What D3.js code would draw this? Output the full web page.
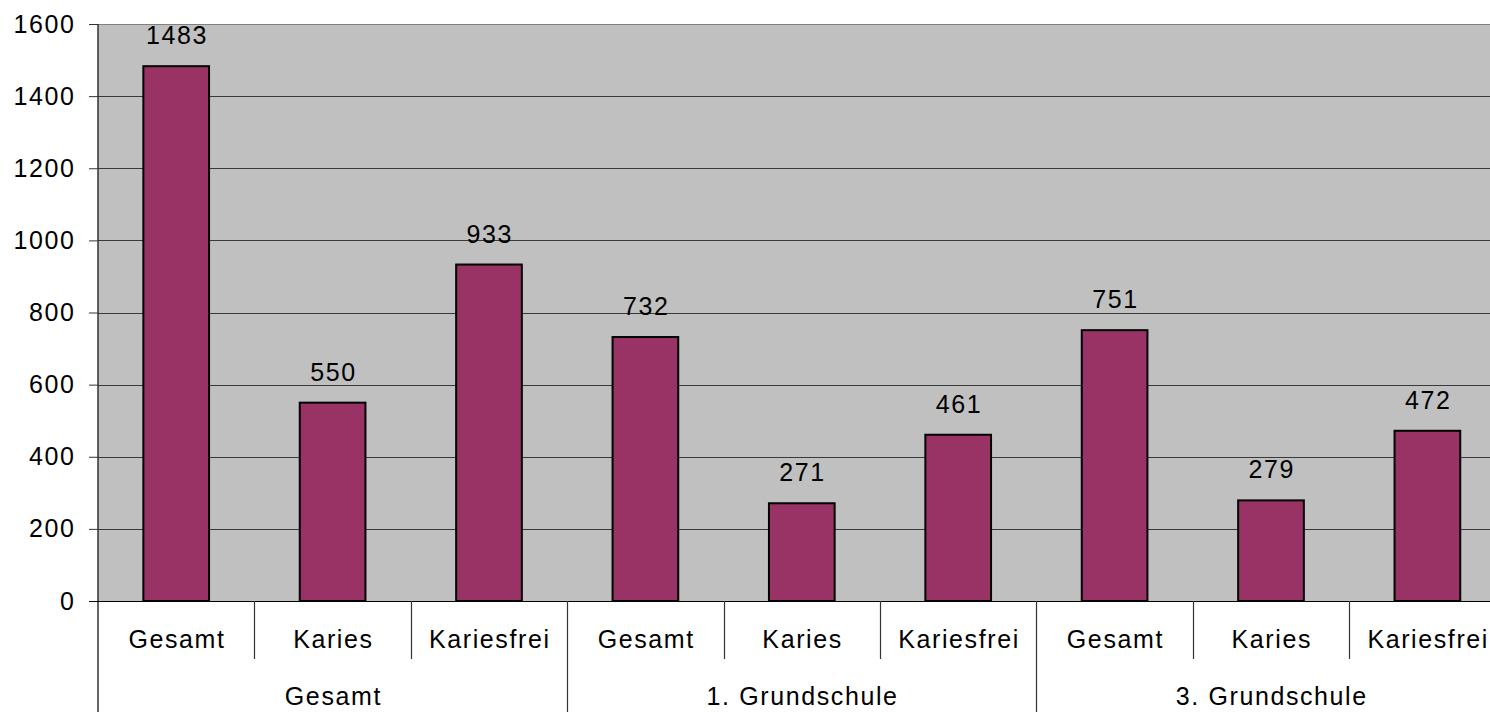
<!DOCTYPE html>
<html><head><meta charset="utf-8">
<script src="https://cdn.jsdelivr.net/npm/d3@7"></script>
<style>
html,body{margin:0;padding:0;background:#fff;overflow:hidden;}
svg text{font-family:"Liberation Sans",Arial,sans-serif;fill:#000;}
</style></head>
<body>
<svg id="chart" width="1490" height="712"></svg>
<script>
const groups = ["Gesamt", "1. Grundschule", "3. Grundschule"];
const categories = ["Gesamt", "Karies", "Kariesfrei"];
const values = [1483, 550, 933, 732, 271, 461, 751, 279, 472];
const yTicks = [0, 200, 400, 600, 800, 1000, 1200, 1400, 1600];

(function () {
const svg = d3.select("#chart");
const pLeft = 98, pRight = 1505.6, pTop = 24, pBottom = 601, visRight = 1490;
const fontSize = 25, ls = 1.6;

const items = [];
groups.forEach((g, gi) => categories.forEach((c, ci) => items.push({key: gi + "|" + ci, group: g, cat: c, value: values[gi * categories.length + ci]})));

const x = d3.scaleBand().domain(items.map(d => d.key)).range([pLeft, pRight]).padding(0);
const y = d3.scaleLinear().domain([0, 1600]).range([pBottom, pTop]);
const bw = x.bandwidth() * 0.42;

// background
svg.append("rect").attr("x", pLeft).attr("y", pTop).attr("width", visRight - pLeft).attr("height", pBottom - pTop).attr("fill", "#C0C0C0");

// grid
svg.append("g").selectAll("line").data(yTicks.filter(t => t > 0)).join("line")
  .attr("x1", pLeft).attr("x2", visRight)
  .attr("y1", d => Math.round(y(d)) + 0.5).attr("y2", d => Math.round(y(d)) + 0.5)
  .attr("stroke", d => d === 1600 ? "#808080" : "#3a3a3a").attr("stroke-width", 1);

// y axis
const yAxis = d3.axisLeft(y).tickValues(yTicks).tickFormat(d3.format("d")).tickSize(9).tickPadding(15);
const ya = svg.append("g").attr("transform", `translate(${pLeft},0)`).call(yAxis);
ya.select(".domain").remove();
ya.selectAll(".tick line").attr("stroke", "#333");
ya.selectAll(".tick text").attr("font-size", fontSize).attr("letter-spacing", ls + "px")
  .attr("font-family", "'Liberation Sans',Arial,sans-serif").attr("fill", "#000")
  .attr("dy", null).attr("y", 8).attr("dx", ls);

// bars
svg.append("g").selectAll("rect").data(items).join("rect")
  .attr("x", d => x(d.key) + (x.bandwidth() - bw) / 2)
  .attr("width", bw)
  .attr("y", d => y(d.value))
  .attr("height", d => y(0) - y(d.value))
  .attr("fill", "#993366").attr("stroke", "#000").attr("stroke-width", 2);

// value labels
svg.append("g").selectAll("text").data(items).join("text")
  .attr("x", d => x(d.key) + x.bandwidth() / 2 + ls / 2)
  .attr("y", d => y(d.value) - 22)
  .attr("text-anchor", "middle").attr("font-size", fontSize).attr("letter-spacing", ls + "px")
  .text(d => d.value);

// axis lines
svg.append("line").attr("x1", pLeft).attr("x2", pLeft).attr("y1", pTop).attr("y2", 712).attr("stroke", "#333").attr("stroke-width", 1.5);
svg.append("line").attr("x1", pLeft - 9).attr("x2", visRight).attr("y1", pBottom + 0.5).attr("y2", pBottom + 0.5).attr("stroke", "#000").attr("stroke-width", 1.2);

// category separators
const keys = x.domain();
keys.forEach((k, i) => {
  if (i === 0) return;
  const xx = Math.round(x(k)) + 0.5;
  const isGroup = i % categories.length === 0;
  svg.append("line").attr("x1", xx).attr("x2", xx).attr("y1", pBottom).attr("y2", isGroup ? 712 : 659)
    .attr("stroke", "#333").attr("stroke-width", 1.2);
});

// category labels
svg.append("g").selectAll("text").data(items).join("text")
  .attr("x", d => x(d.key) + x.bandwidth() / 2 + ls / 2)
  .attr("y", 648)
  .attr("text-anchor", "middle").attr("font-size", fontSize).attr("letter-spacing", ls + "px")
  .text(d => d.cat);

// group labels
svg.append("g").selectAll("text").data(groups).join("text")
  .attr("x", (d, gi) => (x(gi + "|0") + x(gi + "|" + (categories.length - 1)) + x.bandwidth()) / 2 + ls / 2)
  .attr("y", 705)
  .attr("text-anchor", "middle").attr("font-size", fontSize).attr("letter-spacing", ls + "px")
  .text(d => d);
})();
</script>
</body></html>
